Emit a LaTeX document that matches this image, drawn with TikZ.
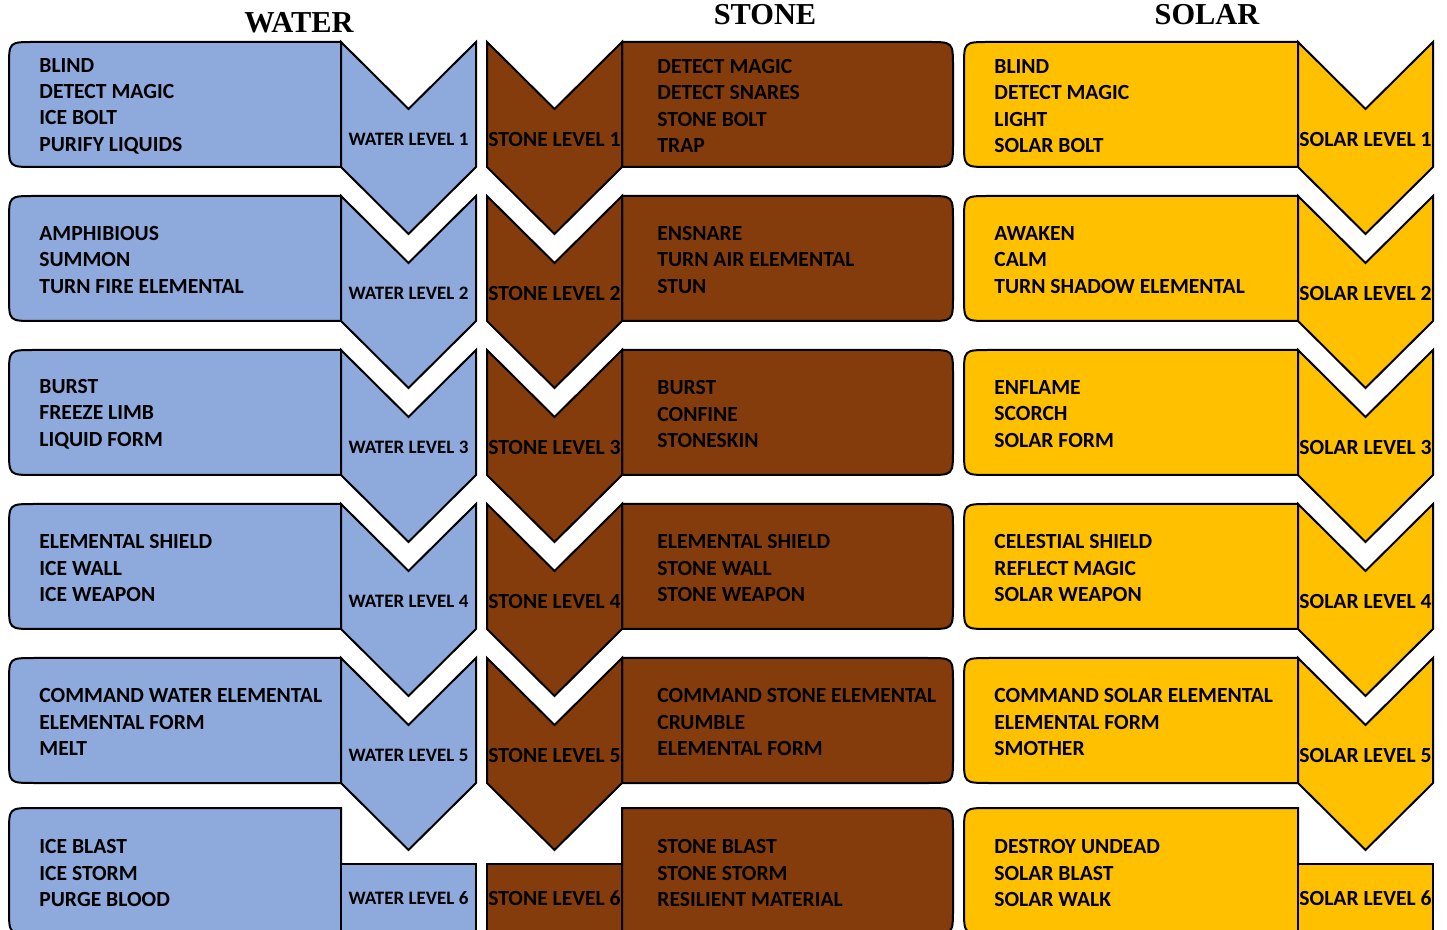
\documentclass[tikz,border=0pt]{standalone}
\usepackage{fontspec}
\setmainfont{Carlito}
\newfontfamily\headfont{Liberation Serif}
\usepackage{tikz}
\definecolor{waterblue}{HTML}{8EA9DB}
\definecolor{stonebrown}{HTML}{843C0C}
\definecolor{solargold}{HTML}{FFC000}
\tikzstyle{blockline} = [draw=black,line width=1pt,line join=miter]

\begin{document}
\begin{tikzpicture}[x=0.5pt,y=-0.5pt,
  spells/.style={anchor=west,align=left,inner sep=0pt,font=\bfseries\fontsize{10.8}{13.2}\selectfont},
  lvl/.style={inner sep=0pt,font=\bfseries\fontsize{10.8}{12}\selectfont},
  wlvl/.style={inner sep=0pt,font=\bfseries\fontsize{9.5}{11}\selectfont},
  head/.style={font=\headfont\bfseries\fontsize{15.2}{17}\selectfont}]

  \useasboundingbox (0,0) rectangle (1447,930);
  \clip (0,0) rectangle (1447,930);

  % column titles
  \node[head] (waterhead) at (299,23) {WATER};
  \node[head] (stonehead) at (765,15) {STONE};
  \node[head] (solarhead) at (1207,15) {SOLAR};

  % levels 1 to 5
  \foreach \t [count=\i] in {42,196,350,504,658} {
    % water
    \draw[blockline,fill=waterblue] (341,\t) -- (34,\t) .. controls (9,\t) .. (9,\t+25)
      -- (9,\t+100) .. controls (9,\t+125) .. (34,\t+125) -- (341,\t+125) -- cycle;
    \draw[blockline,fill=waterblue] (341,\t) -- (408.5,\t+67) -- (476,\t) -- (476,\t+125)
      -- (408.5,\t+192) -- (341,\t+125) -- cycle;
    \node[wlvl] (wl\i) at (408.5,\t+97) {WATER LEVEL \i};
    % stone
    \draw[blockline,fill=stonebrown] (622,\t) -- (928,\t) .. controls (953,\t) .. (953,\t+25)
      -- (953,\t+100) .. controls (953,\t+125) .. (928,\t+125) -- (622,\t+125) -- cycle;
    \draw[blockline,fill=stonebrown] (487,\t) -- (554.5,\t+67) -- (622,\t) -- (622,\t+125)
      -- (554.5,\t+192) -- (487,\t+125) -- cycle;
    \node[lvl] (stl\i) at (554.5,\t+97) {STONE LEVEL \i};
    % solar
    \draw[blockline,fill=solargold] (1298,\t) -- (989,\t) .. controls (964,\t) .. (964,\t+25)
      -- (964,\t+100) .. controls (964,\t+125) .. (989,\t+125) -- (1298,\t+125) -- cycle;
    \draw[blockline,fill=solargold] (1298,\t) -- (1365.5,\t+67) -- (1433,\t) -- (1433,\t+125)
      -- (1365.5,\t+192) -- (1298,\t+125) -- cycle;
    \node[lvl] (sol\i) at (1365.5,\t+97) {SOLAR LEVEL \i};
  }

  % level 6
  \draw[blockline,fill=waterblue] (341,808) -- (34,808) .. controls (9,808) .. (9,833)
    -- (9,909) .. controls (9,934) .. (34,934) -- (341,934) -- cycle;
  \draw[blockline,fill=waterblue] (341,864) rectangle (476,940);
  \node[wlvl] (wl6) at (408.5,898) {WATER LEVEL 6};
  \draw[blockline,fill=stonebrown] (622,808) -- (928,808) .. controls (953,808) .. (953,833)
    -- (953,909) .. controls (953,934) .. (928,934) -- (622,934) -- cycle;
  \draw[blockline,fill=stonebrown] (487,864) rectangle (622,940);
  \node[lvl] (stl6) at (554.5,898) {STONE LEVEL 6};
  \draw[blockline,fill=solargold] (1298,808) -- (989,808) .. controls (964,808) .. (964,833)
    -- (964,909) .. controls (964,934) .. (989,934) -- (1298,934) -- cycle;
  \draw[blockline,fill=solargold] (1298,864) rectangle (1433,940);
  \node[lvl] (sol6) at (1365.5,898) {SOLAR LEVEL 6};

  % spell lists
  \foreach \t/\txt [count=\i] in {
    106/{BLIND\\DETECT MAGIC\\ICE BOLT\\PURIFY LIQUIDS},
    260/{AMPHIBIOUS\\SUMMON\\TURN FIRE ELEMENTAL},
    414/{BURST\\FREEZE LIMB\\LIQUID FORM},
    568/{ELEMENTAL SHIELD\\ICE WALL\\ICE WEAPON},
    722/{COMMAND WATER ELEMENTAL\\ELEMENTAL FORM\\MELT},
    873/{ICE BLAST\\ICE STORM\\PURGE BLOOD}}
    \node[spells] (wsp\i) at (39,\t) {\txt};
  \foreach \t/\txt [count=\i] in {
    106/{DETECT MAGIC\\DETECT SNARES\\STONE BOLT\\TRAP},
    260/{ENSNARE\\TURN AIR ELEMENTAL\\STUN},
    414/{BURST\\CONFINE\\STONESKIN},
    568/{ELEMENTAL SHIELD\\STONE WALL\\STONE WEAPON},
    722/{COMMAND STONE ELEMENTAL\\CRUMBLE\\ELEMENTAL FORM},
    873/{STONE BLAST\\STONE STORM\\RESILIENT MATERIAL}}
    \node[spells] (stsp\i) at (657,\t) {\txt};
  \foreach \t/\txt [count=\i] in {
    106/{BLIND\\DETECT MAGIC\\LIGHT\\SOLAR BOLT},
    260/{AWAKEN\\CALM\\TURN SHADOW ELEMENTAL},
    414/{ENFLAME\\SCORCH\\SOLAR FORM},
    568/{CELESTIAL SHIELD\\REFLECT MAGIC\\SOLAR WEAPON},
    722/{COMMAND SOLAR ELEMENTAL\\ELEMENTAL FORM\\SMOTHER},
    873/{DESTROY UNDEAD\\SOLAR BLAST\\SOLAR WALK}}
    \node[spells] (sosp\i) at (994,\t) {\txt};

\end{tikzpicture}
\end{document}
